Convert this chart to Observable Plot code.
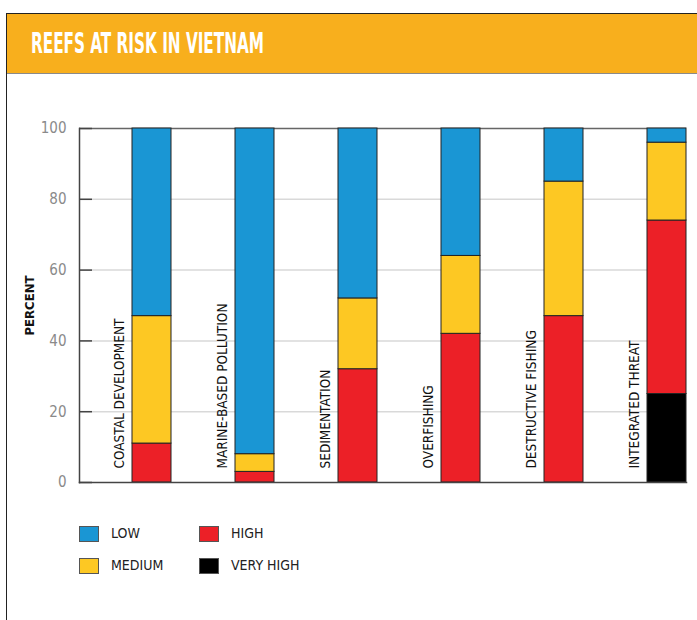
<!DOCTYPE html>
<html>
<head>
<meta charset="utf-8">
<script src="https://cdn.jsdelivr.net/npm/d3@7"></script>
<script src="https://cdn.jsdelivr.net/npm/@observablehq/plot@0.6"></script>
<style>
  html, body { margin: 0; padding: 0; background: #fff; width: 697px; height: 620px; overflow: hidden; }
  .cond { font-family: "Liberation Sans Narrow", "DejaVu Sans Condensed", "Roboto", sans-serif; font-stretch: condensed; }
  #frame { position: absolute; left: 6px; top: 13px; width: 720px; height: 640px; border: 1px solid #222; box-sizing: border-box; }
  #header { position: absolute; left: 7px; top: 14px; width: 700px; height: 59px; background: #F8AF1D; border-bottom: 1px solid #8a8a8a; }
  #title { position: absolute; left: 31px; top: 26px; color: #fff; font-weight: bold; font-size: 29px; white-space: nowrap; transform-origin: 0 0; }
  #chart { position: absolute; left: 0; top: 74px; }
  .sw { position: absolute; width: 18px; height: 14px; border: 1px solid #555; }
  .lt { position: absolute; font-size: 14px; color: #222; white-space: nowrap; }
</style>
</head>
<body>
<div id="frame"></div>
<div id="header"></div>
<div id="title" class="cond">REEFS AT RISK IN VIETNAM</div>
<div id="chart"></div>
<div id="legend"></div>
<script>
const categories = ["COASTAL DEVELOPMENT", "MARINE-BASED POLLUTION", "SEDIMENTATION", "OVERFISHING", "DESTRUCTIVE FISHING", "INTEGRATED THREAT"];
const veryHigh = [0, 0, 0, 0, 0, 25];
const high = [11, 3, 32, 42, 47, 49];
const medium = [36, 5, 20, 22, 38, 22];
const low = [53, 92, 48, 36, 15, 4];
const levels = ["VERY HIGH", "HIGH", "MEDIUM", "LOW"];
const colors = ["#000000", "#EC2027", "#FDC823", "#1A96D4"];
const yTicks = [0, 20, 40, 60, 80, 100];
const yLabel = "PERCENT";

const series = [veryHigh, high, medium, low];
const rows = [];
categories.forEach((c, i) => {
  levels.forEach((lv, j) => {
    if (series[j][i] > 0) rows.push({category: c, level: lv, value: series[j][i]});
  });
});

const font = '"Liberation Sans Narrow", "DejaVu Sans Condensed", "Roboto", sans-serif';

const chart = Plot.plot({
  width: 697,
  height: 430,
  marginLeft: 79,
  marginRight: 11,
  marginTop: 54,
  marginBottom: 22,
  style: {fontFamily: font, fontStretch: "condensed", background: "transparent", overflow: "visible"},
  x: {domain: categories, paddingInner: 0.622, paddingOuter: 0.252, align: 1, axis: null},
  y: {domain: [0, 100], axis: null},
  color: {domain: levels, range: colors},
  marks: [
    Plot.ruleY(yTicks.filter(d => d > 0 && d < 100), {stroke: "#d9d9d9", strokeWidth: 1.5}),
    Plot.ruleY([100], {stroke: "#666", strokeWidth: 1.5}),
    Plot.barY(rows, {x: "category", y: "value", fill: "level", order: levels, stroke: "#222", strokeWidth: 1}),
    Plot.axisY({ticks: yTicks, tickSize: 13, dx: 13, text: null, stroke: "#444", strokeWidth: 1.5, label: null}),
    Plot.axisY({ticks: yTicks, tickSize: 0, tickPadding: 13, fontSize: 15, fill: "#8a8a8a", label: null}),
    Plot.frame({anchor: "left", stroke: "#444", strokeWidth: 1.5}),
    Plot.frame({anchor: "bottom", stroke: "#444", strokeWidth: 1.5}),
    Plot.text(categories, {x: d => d, text: d => d, y: 0, dx: -32, dy: -14, rotate: -90, textAnchor: "start", fontSize: 13.5, fill: "#111"}),
    Plot.text([yLabel], {frameAnchor: "left", textAnchor: "middle", dx: -50, rotate: -90, text: d => d, fontSize: 13, fontWeight: "bold", fill: "#111"})
  ]
});
document.getElementById("chart").appendChild(chart);

// condense the title to the reference's width
const title = document.getElementById("title");
const tw = title.getBoundingClientRect().width;
title.style.transform = "scaleX(" + (233 / tw) + ")";

const legendItems = [
  {label: "LOW", color: "#1A96D4", x: 79, y: 526},
  {label: "MEDIUM", color: "#FDC823", x: 79, y: 558},
  {label: "HIGH", color: "#EC2027", x: 199, y: 526},
  {label: "VERY HIGH", color: "#000000", x: 199, y: 558}
];
const lg = document.getElementById("legend");
legendItems.forEach(it => {
  const s = document.createElement("div");
  s.className = "sw";
  s.style.left = it.x + "px"; s.style.top = it.y + "px"; s.style.background = it.color;
  lg.appendChild(s);
  const t = document.createElement("div");
  t.className = "lt cond";
  t.style.left = (it.x + 32) + "px"; t.style.top = (it.y - 1) + "px";
  t.textContent = it.label;
  lg.appendChild(t);
});
</script>
</body>
</html>
